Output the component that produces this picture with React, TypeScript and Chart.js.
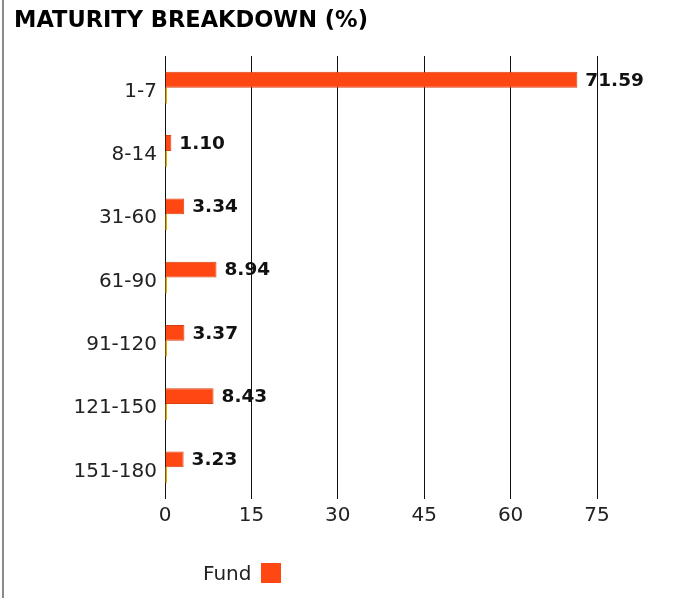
import React, { useEffect, useRef } from "react";
import { Chart, registerables } from "chart.js";

Chart.register(...registerables);

const categories = ["1-7", "8-14", "31-60", "61-90", "91-120", "121-150", "151-180"];
const fundValues = [71.59, 1.1, 3.34, 8.94, 3.37, 8.43, 3.23];
const benchmarkValues = [0, 0, 0, 0, 0, 0, 0];
const xTicks = [0, 15, 30, 45, 60, 75];
const titleText = "MATURITY BREAKDOWN (%)";
const fundLabel = "Fund";

const ORANGE = "#FF4713";
const FONT = "'DejaVu Sans', sans-serif";

const valueLabels = {
  id: "valueLabels",
  afterDatasetsDraw(chart: any) {
    const ctx = chart.ctx;
    const meta = chart.getDatasetMeta(0);
    ctx.save();
    ctx.font = `bold 18.5px ${FONT}`;
    ctx.fillStyle = "#111";
    ctx.textAlign = "left";
    ctx.textBaseline = "middle";
    meta.data.forEach((el: any, i: number) => {
      const v = chart.data.datasets[0].data[i] as number;
      ctx.fillText(v.toFixed(2), el.x + 8, el.y + 1);
    });
    ctx.restore();
  },
};

export default function App() {
  const ref = useRef<HTMLCanvasElement>(null);
  useEffect(() => {
    document.body.style.margin = "0";
    const chart = new Chart(ref.current!, {
      type: "bar",
      data: {
        labels: categories,
        datasets: [
          {
            label: fundLabel,
            data: fundValues,
            backgroundColor: ORANGE,
            borderColor: "#D9400F",
            borderWidth: 1,
            categoryPercentage: 0.5,
            barPercentage: 1,
          },
          {
            label: "Benchmark",
            data: benchmarkValues,
            backgroundColor: "#E0A800",
            borderWidth: 0,
            minBarLength: 2,
            categoryPercentage: 0.5,
            barPercentage: 1,
          },
        ],
      },
      options: {
        indexAxis: "y",
        animation: false,
        responsive: true,
        maintainAspectRatio: false,
        layout: { padding: { left: 10, right: 84, top: 0, bottom: 69 } },
        plugins: {
          legend: { display: false },
          tooltip: { enabled: false },
          title: {
            display: true,
            text: titleText,
            align: "start",
            color: "#000",
            font: { family: FONT, size: 22.5, weight: "bold", lineHeight: 1.2 },
            padding: { top: 8, bottom: 21 },
          },
        },
        scales: {
          x: {
            type: "linear",
            min: 0,
            max: 75,
            afterBuildTicks: (s: any) => {
              s.ticks = xTicks.map((v) => ({ value: v }));
            },
            afterFit: (s: any) => {
              s.height = 30;
            },
            grid: { color: "#111", lineWidth: 1, drawTicks: false },
            border: { display: false },
            ticks: { color: "#222", font: { family: FONT, size: 20 }, padding: 5 },
          },
          y: {
            afterFit: (s: any) => {
              s.width = 151;
            },
            grid: { display: false, drawTicks: false },
            border: { display: false },
            ticks: { color: "#222", font: { family: FONT, size: 20 }, padding: 8, labelOffset: 4 },
          },
        },
      },
      plugins: [valueLabels],
    });
    return () => chart.destroy();
  }, []);

  return (
    <div
      style={{
        marginLeft: 2,
        borderLeft: "2px solid #8a8a8a",
        width: 677,
        height: 598,
        position: "relative",
      }}
    >
      <div style={{ position: "relative", width: 677, height: 598 }}>
        <canvas ref={ref} />
      </div>
      <div
        style={{
          position: "absolute",
          left: 199,
          top: 561,
          display: "flex",
          alignItems: "center",
          gap: 10,
          fontFamily: FONT,
          fontSize: 20,
          color: "#222",
        }}
      >
        <span>{fundLabel}</span>
        <span style={{ width: 20, height: 20, background: ORANGE, display: "inline-block" }} />
      </div>
    </div>
  );
}
